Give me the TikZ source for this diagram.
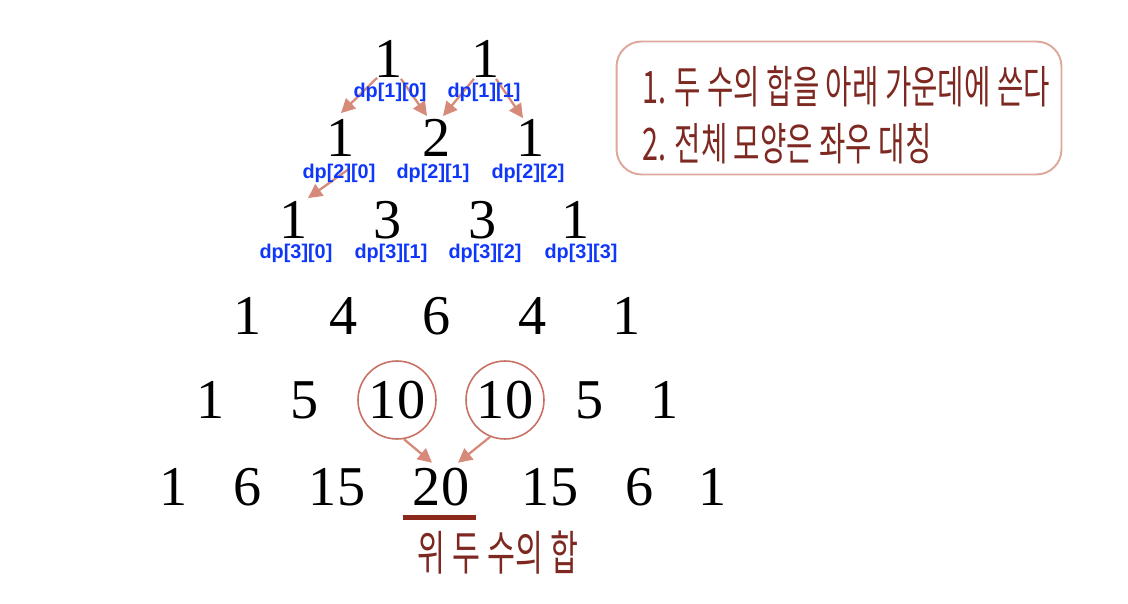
\documentclass[tikz,border=0pt]{standalone}
\usepackage{fontspec}
\setmainfont{Liberation Serif}
\newfontfamily\korfont[FakeStretch=0.64]{Noto Sans CJK KR}
\newfontfamily\labelfont{Liberation Sans}
\usepackage{xcolor}
\usetikzlibrary{arrows, arrows.meta, positioning, calc, shapes.geometric}
\definecolor{arrowc}{RGB}{214,138,122}
\definecolor{circc}{RGB}{200,112,98}
\definecolor{boxc}{RGB}{222,168,155}
\definecolor{notec}{RGB}{125,40,32}
\definecolor{linec}{RGB}{138,40,28}
\definecolor{dpblue}{RGB}{15,55,250}
\tikzstyle{num} = [inner sep=0pt, font=\fontsize{32}{32}\selectfont]
\tikzstyle{idx} = [inner sep=0pt, text=dpblue, font=\labelfont\bfseries\fontsize{11.3}{12}\selectfont]
\tikzstyle{arrow} = [line width=1.3pt, draw=arrowc, -{Triangle[length=8pt,width=8pt]}]
\tikzstyle{ring} = [circle, draw=circc, line width=0.9pt, minimum size=1.56cm]
\tikzstyle{note} = [rectangle, rounded corners=0.5cm, draw=boxc, line width=1.1pt, minimum width=8.9cm, minimum height=2.66cm]
\tikzstyle{notetxt} = [inner sep=0pt, text=notec, font=\korfont\fontsize{25.5}{26}\selectfont]

\begin{document}
\begin{tikzpicture}[x=0.02cm, y=-0.02cm]
\useasboundingbox (0,0) rectangle (1128,604);

% Row 1
\node[num] (p10) at (389,59) {1};
\node[num] (p11) at (486,59) {1};

% Row 2
\node[num] (p20) at (341,138) {1};
\node[num] (p21) at (437,138) {2};
\node[num] (p22) at (531,138) {1};

% Row 3
\node[num] (p30) at (294,220) {1};
\node[num] (p31) at (388,220) {3};
\node[num] (p32) at (483,220) {3};
\node[num] (p33) at (576,220) {1};

% Row 4
\node[num] (p40) at (248,316) {1};
\node[num] (p41) at (344,316) {4};
\node[num] (p42) at (437,316) {6};
\node[num] (p43) at (533,316) {4};
\node[num] (p44) at (627,316) {1};

% Row 5
\node[num] (p50) at (211,400) {1};
\node[num] (p51) at (305,400) {5};
\node[num, ring] (p52) at (397,400) {10};
\node[num, ring] (p53) at (505,400) {10};
\node[num] (p54) at (590,400) {5};
\node[num] (p55) at (665,400) {1};

% Row 6
\node[num] (p60) at (174,487) {1};
\node[num] (p61) at (248,487) {6};
\node[num] (p62) at (337,487) {15};
\node[num] (p63) at (441,487) {20};
\node[num] (p64) at (550,487) {15};
\node[num] (p65) at (640,487) {6};
\node[num] (p66) at (713,487) {1};

% Arrows
\draw[arrow] ([shift={(-12,0)}]p10.south) -- ([shift={(0,-6)}]p20.north);
\draw[arrow] ([shift={(12,1)}]p10.south) -- ([shift={(-10,-3)}]p21.north);
\draw[arrow] ([shift={(-12,1)}]p11.south) -- ([shift={(6,-3)}]p21.north);
\draw[arrow] ([shift={(10,1)}]p11.south) -- ([shift={(-8,-1)}]p22.north);
\draw[arrow] ([shift={(8,12)}]p20.south) -- ([shift={(14,-3)}]p30.north);
\draw[arrow] (p52.-80) -- ([shift={(-9,-5)}]p63.north);
\draw[arrow] (p53.-112) -- ([shift={(17,-5)}]p63.north);

% Index labels
\node[idx] (l10) at (390,92) {dp[1][0]};
\node[idx] (l11) at (484,92) {dp[1][1]};
\node[idx] (l20) at (339,173) {dp[2][0]};
\node[idx] (l21) at (433,173) {dp[2][1]};
\node[idx] (l22) at (528,173) {dp[2][2]};
\node[idx] (l30) at (296,253) {dp[3][0]};
\node[idx] (l31) at (391,253) {dp[3][1]};
\node[idx] (l32) at (485,253) {dp[3][2]};
\node[idx] (l33) at (581,253) {dp[3][3]};

% Sum note under 20
\draw[linec, line width=2.8pt] ([shift={(-10,11)}]p63.south west) -- ([shift={(7,11)}]p63.south east);
\node[notetxt, font=\korfont\fontsize{27}{27}\selectfont] (sum) at (498,553) {위 두 수의 합};

% Rule box
\node[note] (note) at (839,108) {};
\node[notetxt, anchor=west] (rule1) at (642,87) {1. 두 수의 합을 아래 가운데에 쓴다};
\node[notetxt, anchor=west] (rule2) at (642,144) {2. 전체 모양은 좌우 대칭};
\end{tikzpicture}
\end{document}
